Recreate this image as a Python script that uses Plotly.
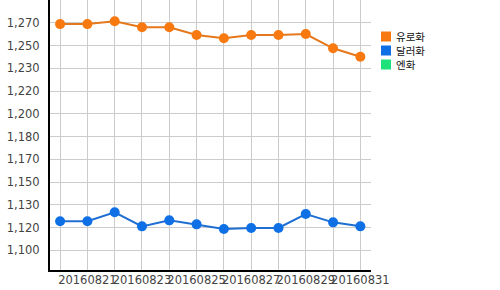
import plotly.graph_objects as go

dates = ["20160820", "20160821", "20160822", "20160823", "20160824", "20160825",
         "20160826", "20160827", "20160828", "20160829", "20160830", "20160831"]
eur = [1269.0, 1269.0, 1271.1, 1266.6, 1266.6, 1260.8, 1258.4, 1260.8, 1260.8, 1261.6, 1250.9, 1244.6]
usd = [1121.7, 1121.7, 1128.4, 1117.9, 1122.4, 1119.4, 1115.9, 1116.7, 1116.7, 1127.1, 1120.9, 1117.9]
jpy = []
series_names = ["유로화", "달러화", "엔화"]
series_colors = ["#f7790f", "#0f70e6", "#1de27a"]
line_colors = ["#e5781c", "#1f6fd2", "#1de27a"]
ytick_vals = [1100 + 17 * k for k in range(11)]
ytick_text = ["1,100", "1,120", "1,130", "1,150", "1,170", "1,180", "1,200", "1,220", "1,230", "1,250", "1,270"]
xtick_text = [d if i % 2 == 1 else "" for i, d in enumerate(dates)]

W, H = 500, 290
ML, MR, MT, MB = 50, 129, 0, 20
PW, PH = W - ML - MR, H - MT - MB

fig = go.Figure()
for name, vals, mc, lc in zip(series_names, [eur, usd, jpy], series_colors, line_colors):
    fig.add_trace(go.Scatter(
        x=dates[:len(vals)], y=vals, name=name, mode="lines+markers",
        line=dict(color=lc, width=2),
        marker=dict(color=mc, size=10, symbol="circle"),
        showlegend=False,
    ))

# custom compact legend
shapes = []
annotations = []
legend_y = [36.5, 50.5, 64.5]
for name, col, ypx in zip(series_names, series_colors, legend_y):
    x0 = (381 - ML) / PW
    x1 = (391 - ML) / PW
    y0 = (H - MB - (ypx + 5)) / PH
    y1 = (H - MB - (ypx - 5)) / PH
    shapes.append(dict(type="rect", xref="paper", yref="paper", x0=x0, x1=x1, y0=y0, y1=y1,
                       fillcolor=col, line=dict(width=0)))
    annotations.append(dict(xref="paper", yref="paper", x=(394 - ML) / PW, y=(H - MB - ypx) / PH,
                            text=name, showarrow=False, xanchor="left", yanchor="middle",
                            font=dict(family="Noto Sans CJK KR", size=10.5, color="#111111")))

fig.update_layout(
    width=W, height=H,
    margin=dict(l=ML, r=MR, t=MT, b=MB),
    paper_bgcolor="white", plot_bgcolor="white",
    font=dict(family="DejaVu Sans", size=11.5, color="#444444"),
    shapes=shapes, annotations=annotations,
    showlegend=False,
)
fig.update_xaxes(
    type="category", range=[-0.37, 11.39],
    tickmode="array", tickvals=dates, ticktext=xtick_text, tickangle=0,
    showgrid=True, gridcolor="#cccccc", gridwidth=1,
    showline=True, linecolor="#000000", linewidth=2,
    ticks="", zeroline=False, ticklabelstandoff=-2,
)
fig.update_yaxes(
    range=[1085.3, 1287.0],
    tickmode="array", tickvals=ytick_vals, ticktext=ytick_text,
    showgrid=True, gridcolor="#cccccc", gridwidth=1,
    showline=True, linecolor="#000000", linewidth=2,
    ticks="outside", ticklen=6, tickcolor="rgba(0,0,0,0)", zeroline=False,
)

fig.write_html("out.html")
